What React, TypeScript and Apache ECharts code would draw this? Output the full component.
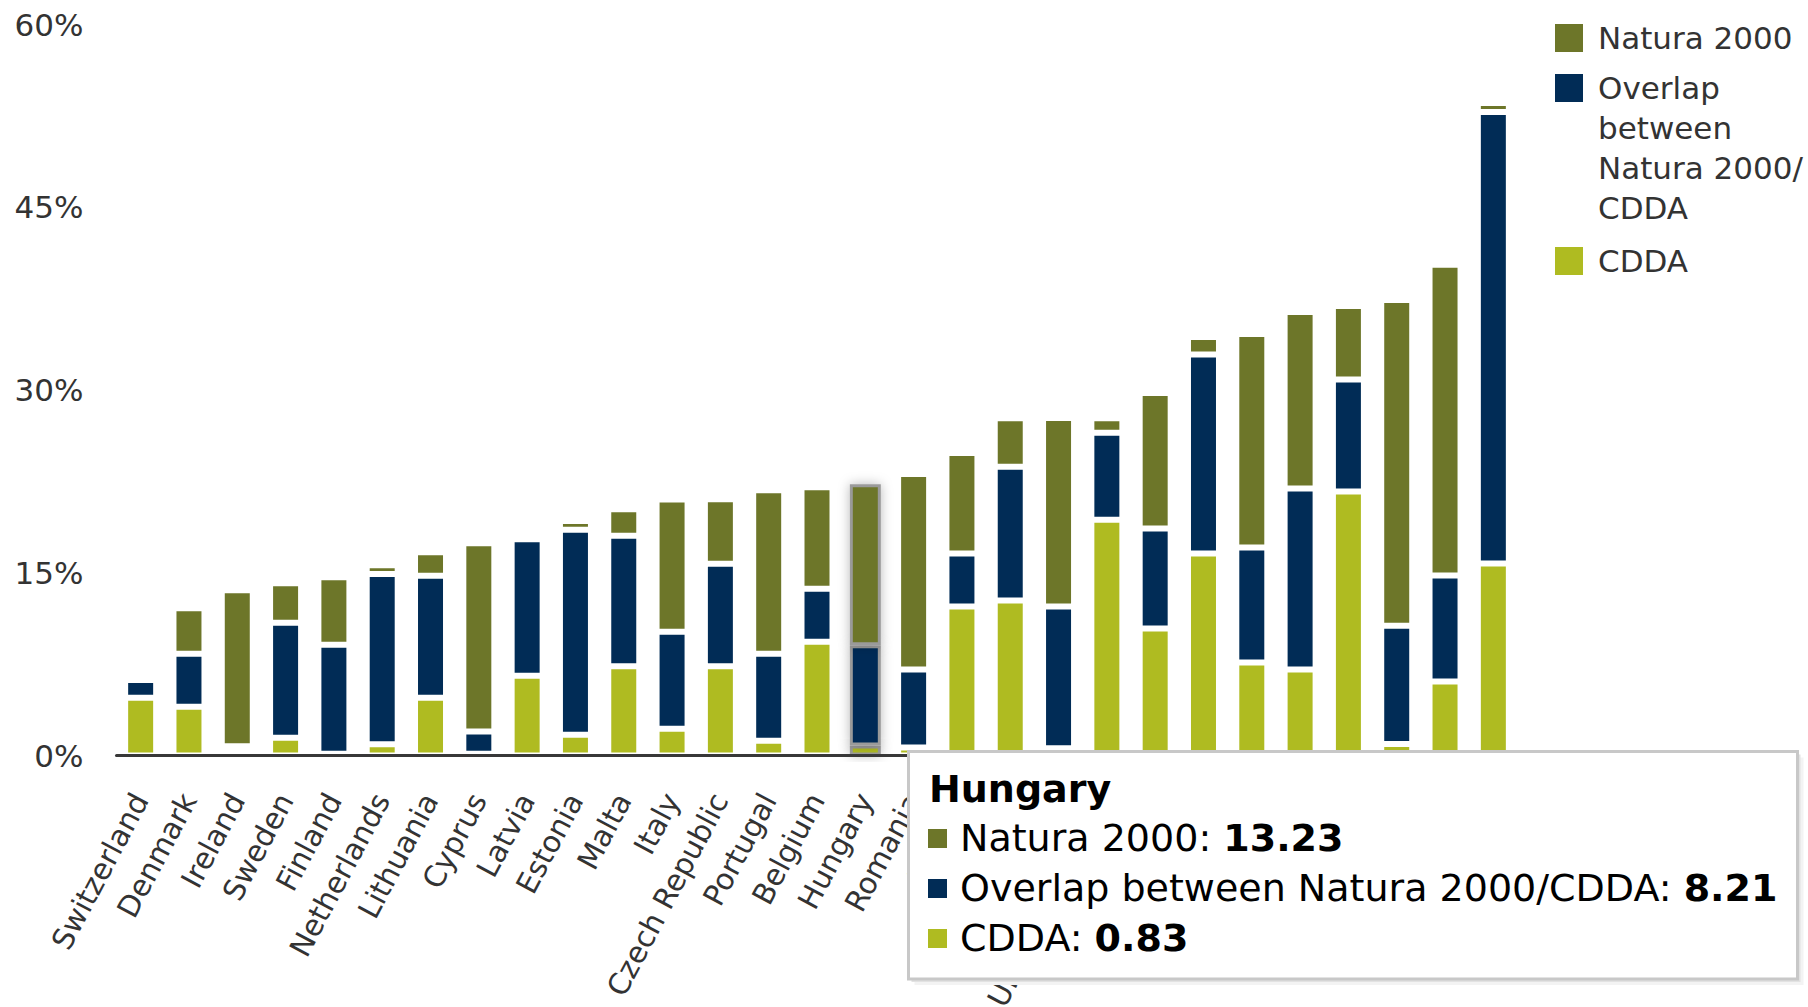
import React, { useEffect, useRef } from 'react';
import * as echarts from 'echarts';

const categories = [
  'Switzerland', 'Denmark', 'Ireland', 'Sweden', 'Finland', 'Netherlands', 'Lithuania',
  'Cyprus', 'Latvia', 'Estonia', 'Malta', 'Italy', 'Czech Republic', 'Portugal', 'Belgium',
  'Hungary', 'Romania', 'France', 'Austria', 'Spain', 'United Kingdom', 'Poland',
  'Luxembourg', 'Greece', 'Slovakia', 'Germany', 'Croatia', 'Bulgaria', 'Slovenia',
];

const cdda = [
  4.75, 4.01, 0.5, 1.46, 0.15, 0.93, 4.75, 0.15, 6.55, 1.71, 7.33, 2.2, 7.33, 1.22, 9.34,
  0.83, 0.66, 12.22, 12.72, 0.6, 19.36, 10.43, 16.57, 7.64, 7.06, 21.67, 0.94, 6.08, 15.76,
];

const overlap = [
  1.44, 4.35, 0.25, 9.44, 8.94, 13.97, 10.01, 1.81, 11.2, 16.81, 10.71, 7.95, 8.41, 7.14, 4.35,
  8.21, 6.4, 4.35, 10.99, 11.63, 7.14, 8.21, 16.34, 9.43, 14.86, 9.19, 9.72, 8.7, 37.05,
];

const natura = [
  0, 3.73, 12.81, 3.24, 5.54, 0.72, 1.93, 15.47, 0.4, 0.72, 2.17, 10.87, 5.29, 13.41, 8.33,
  13.23, 16.04, 8.25, 3.98, 15.47, 1.19, 11.11, 1.43, 17.53, 14.48, 6.04, 26.72, 25.51, 0.75,
];

const yMin = 0;
const yMax = 60;
const yStep = 15;

const NAME_N = 'Natura 2000';
const NAME_O = 'Overlap between Natura 2000/CDDA';
const NAME_C = 'CDDA';
const LEGEND_O_LINES = ['Overlap', 'between', 'Natura 2000/', 'CDDA'];

const COL_N = '#6D7629';
const COL_O = '#012C56';
const COL_C = '#AFBB21';

const FONT = 'DejaVu Sans';
const HOVER = 'Hungary';

export default function App() {
  const ref = useRef<HTMLDivElement>(null);

  useEffect(() => {
    const chart = echarts.init(ref.current!, null, { renderer: 'svg' });
    const hi = categories.indexOf(HOVER);
    const hiStyle = {
      borderColor: '#9a9a9a',
      borderWidth: 3,
      shadowBlur: 12,
      shadowColor: 'rgba(0,0,0,0.28)',
    };
    const mk = (arr: number[]) =>
      arr.map((v, i) => (i === hi ? { value: v, itemStyle: hiStyle } : v));

    const barBase = {
      type: 'bar',
      stack: 'total',
      barWidth: 31,
      emphasis: { disabled: true },
    };

    const legendBase = {
      orient: 'vertical',
      left: 1553,
      padding: 0,
      itemWidth: 30,
      itemHeight: 30,
      icon: 'rect',
      selectedMode: false,
    };
    const legendText = {
      fontFamily: FONT,
      fontSize: 31,
      color: '#333',
      lineHeight: 40,
      padding: [0, 0, 0, 9],
    };

    const tipX = 908.5;
    const tipY = 751.5;
    const tipW = 889;
    const tipH = 227.5;
    const rowText = (label: string, val: number, y: number) => ({
      type: 'text',
      z: 102,
      x: 960,
      y,
      style: {
        text: `{a|${label}: }{b|${val.toFixed(2)}}`,
        verticalAlign: 'middle',
        rich: {
          a: { fontFamily: FONT, fontSize: 38, fill: '#000' },
          b: { fontFamily: FONT, fontSize: 38, fontWeight: 'bold', fill: '#000' },
        },
      },
    });
    const rowSquare = (color: string, y: number) => ({
      type: 'rect',
      z: 102,
      shape: { x: 928, y: y - 9.5, width: 19, height: 19 },
      style: { fill: color },
    });

    chart.setOption({
      animation: false,
      backgroundColor: '#fff',
      grid: {
        left: 116.5,
        right: 290.5,
        top: 24.5,
        bottom: 251.5,
        containLabel: false,
        outerBoundsMode: 'none',
      },
      legend: [
        {
          ...legendBase,
          top: 18,
          data: [{ name: NAME_N }],
          textStyle: legendText,
        },
        {
          ...legendBase,
          top: -52,
          data: [{ name: NAME_O }],
          formatter: () => '\n\n\n' + LEGEND_O_LINES.join('\n'),
          textStyle: legendText,
        },
        {
          ...legendBase,
          top: 241,
          data: [{ name: NAME_C }],
          textStyle: legendText,
        },
      ],
      xAxis: {
        type: 'category',
        data: categories,
        z: 5,
        axisLine: { show: true, lineStyle: { color: '#383838', width: 3 } },
        axisTick: { show: false },
        axisLabel: {
          interval: 0,
          rotate: 62,
          margin: 40,
          fontFamily: FONT,
          fontSize: 29.5,
          color: '#333',
        },
      },
      yAxis: {
        type: 'value',
        min: yMin,
        max: yMax,
        interval: yStep,
        axisLine: { show: false },
        axisTick: { show: false },
        splitLine: { show: false },
        axisLabel: {
          formatter: '{value}%',
          margin: 33,
          fontFamily: FONT,
          fontSize: 31,
          color: '#333',
        },
      },
      series: [
        {
          ...barBase,
          name: NAME_C,
          data: mk(cdda),
          itemStyle: { color: COL_C, borderColor: '#fff', borderWidth: 3 },
        },
        {
          ...barBase,
          name: NAME_O,
          data: mk(overlap),
          itemStyle: { color: COL_O, borderColor: '#fff', borderWidth: 3 },
        },
        {
          ...barBase,
          name: NAME_N,
          data: mk(natura),
          itemStyle: { color: COL_N, borderColor: '#fff', borderWidth: 3 },
        },
      ],
      graphic: [
        {
          type: 'rect',
          z: 100,
          shape: { x: tipX + 6, y: tipY + 6, width: tipW, height: tipH },
          style: { fill: '#f3f3f3' },
        },
        {
          type: 'rect',
          z: 100,
          shape: { x: tipX + 3, y: tipY + 3, width: tipW, height: tipH },
          style: { fill: '#e2e2e2' },
        },
        {
          type: 'rect',
          z: 101,
          shape: { x: tipX, y: tipY, width: tipW, height: tipH },
          style: { fill: '#fff', stroke: '#c8c8c8', lineWidth: 3 },
        },
        {
          type: 'text',
          z: 102,
          x: 929,
          y: 789,
          style: {
            text: HOVER,
            fontFamily: FONT,
            fontSize: 38,
            fontWeight: 'bold',
            fill: '#000',
            verticalAlign: 'middle',
          },
        },
        rowSquare(COL_N, 838.5),
        rowText(NAME_N, natura[hi], 838),
        rowSquare(COL_O, 888.5),
        rowText(NAME_O, overlap[hi], 888),
        rowSquare(COL_C, 938.5),
        rowText(NAME_C, cdda[hi], 938),
      ],
    });

    return () => chart.dispose();
  }, []);

  return (
    <div
      ref={ref}
      style={{ position: 'absolute', left: 0, top: 0, width: 1808, height: 1007, background: '#fff' }}
    />
  );
}
